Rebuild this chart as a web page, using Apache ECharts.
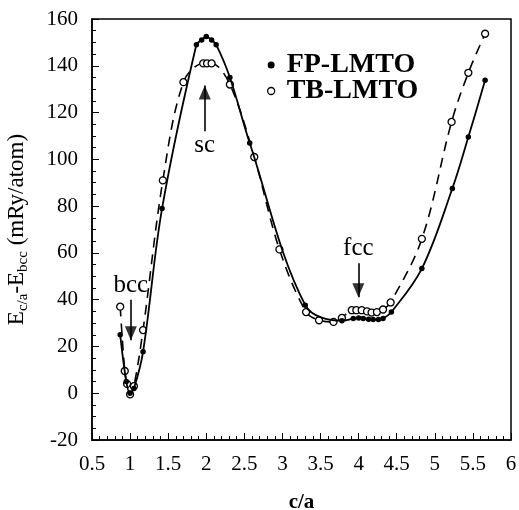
<!DOCTYPE html>
<html><head><meta charset="utf-8">
<script src="https://cdn.jsdelivr.net/npm/echarts@6/dist/echarts.min.js"></script>
<style>html,body{margin:0;padding:0;background:#fff}#c{width:519px;height:510px}</style>
</head><body><div id="c"></div>
<script>
// c/a values and energies (mRy/atom)
const fpX = [0.87, 0.95, 1.0, 1.05, 1.17, 1.42, 1.87, 1.94, 2.0, 2.07, 2.13, 2.31, 2.57, 3.30, 3.78, 3.93, 4.0, 4.06, 4.13, 4.19, 4.26, 4.32, 4.43, 4.83, 5.23, 5.44, 5.66];
const fpY = [25, 5, 0, 2, 17.7, 79, 149, 151, 152.5, 151, 149, 135, 107, 37.6, 31, 31.9, 32.2, 31.9, 31.6, 31.5, 31.5, 31.9, 34.7, 53.3, 87.5, 109.5, 133.8];
const tbX = [0.87, 0.93, 0.96, 1.0, 1.05, 1.17, 1.43, 1.70, 1.96, 2.01, 2.07, 2.31, 2.63, 2.96, 3.31, 3.48, 3.67, 3.78, 3.91, 3.97, 4.04, 4.11, 4.17, 4.24, 4.32, 4.42, 4.83, 5.22, 5.44, 5.66];
const tbY = [37, 9.5, 4, -0.5, 3, 27, 91, 133, 141, 141, 141, 132, 101, 61.5, 34.7, 31.2, 30.5, 32.2, 35.5, 35.5, 35.5, 35, 34.5, 34.7, 35.8, 38.8, 66, 116, 137, 153.7];
const seriesNames = ['FP-LMTO', 'TB-LMTO'];
const xTicks = {min: 0.5, max: 6, interval: 0.5};
const yTicks = {min: -20, max: 160, interval: 20};
// annotations: [label, x, yFrom (label end), yTo (arrow tip)]
const annotations = [['bcc', 1.01, 40, 22.6], ['sc', 1.98, 112, 131.6], ['fcc', 3.996, 55.6, 41]];

const F = 'Liberation Serif';
const zip = (a, b) => a.map((v, i) => [v, b[i]]);
const chart = echarts.init(document.getElementById('c'), null, {renderer: 'canvas'});
chart.setOption({
  animation: false,
  backgroundColor: '#fff',
  grid: {left: 92, right: 8, top: 19, bottom: 70, containLabel: false, outerBoundsMode: 'none',
    show: true, borderColor: '#000', borderWidth: 1.5},
  legend: {
    orient: 'vertical', left: 262, top: 46, itemGap: -2, itemWidth: 7, itemHeight: 7,
    textStyle: {fontFamily: F, fontSize: 28, fontWeight: 'bold', color: '#000', padding: [0, 0, 0, 7]},
    data: [
      {name: seriesNames[0], icon: 'circle', itemStyle: {color: '#000', borderWidth: 0}},
      {name: seriesNames[1], icon: 'circle', itemStyle: {color: '#fff', borderColor: '#000', borderWidth: 1.3}}
    ]
  },
  xAxis: {
    type: 'value', min: xTicks.min, max: xTicks.max, interval: xTicks.interval,
    name: 'c/a', nameLocation: 'middle', nameGap: 52,
    nameTextStyle: {fontFamily: F, fontSize: 21, fontWeight: 'bold', color: '#000'},
    axisLine: {onZero: false, lineStyle: {color: '#000', width: 1.5}},
    axisTick: {inside: true, length: 7, lineStyle: {color: '#000', width: 1}},
    minorTick: {show: true, splitNumber: 5, length: 4, lineStyle: {color: '#000', width: 1}},
    splitLine: {show: false},
    axisLabel: {fontFamily: F, fontSize: 21, color: '#000', margin: 14,
      formatter: v => String(v)}
  },
  yAxis: {
    type: 'value', min: yTicks.min, max: yTicks.max, interval: yTicks.interval,
    name: '{m|E}{s|c/a}{m|-E}{s|bcc}{m| (mRy/atom)}', nameLocation: 'middle', nameGap: 64,
    nameTextStyle: {
      fontFamily: F, fontSize: 23, fontWeight: 'normal', color: '#000',
      rich: {
        m: {fontFamily: F, fontSize: 23, fontWeight: 'normal', color: '#000', lineHeight: 28, verticalAlign: 'bottom'},
        s: {fontFamily: F, fontSize: 15, fontWeight: 'normal', color: '#000', lineHeight: 28, verticalAlign: 'bottom', padding: [0, 0, -3, 0]}
      }
    },
    axisLine: {onZero: false, lineStyle: {color: '#000', width: 1.5}},
    axisTick: {inside: true, length: 7, lineStyle: {color: '#000', width: 1}},
    minorTick: {show: true, splitNumber: 4, length: 4, lineStyle: {color: '#000', width: 1}},
    splitLine: {show: false},
    axisLabel: {fontFamily: F, fontSize: 21, color: '#000', margin: 14}
  },
  series: [
    {
      name: seriesNames[0], type: 'line', smooth: 0.35, data: zip(fpX, fpY),
      symbol: 'circle', symbolSize: 5.5, itemStyle: {color: '#000'},
      lineStyle: {color: '#000', width: 1.8}, z: 3,
      markLine: {
        silent: true, symbol: 'none',
        lineStyle: {color: '#000', width: 1.6, type: 'solid'},
        label: {show: true, position: 'start', fontFamily: F, fontSize: 25, color: '#000', distance: 2,
          formatter: p => p.name},
        data: annotations.map(a => [{name: a[0], coord: [a[1], a[2]]}, {coord: [a[1], a[3]]}])
      }
    },
    {
      name: seriesNames[1], type: 'line', smooth: 0.35, data: zip(tbX, tbY),
      symbol: 'circle', symbolSize: 7, itemStyle: {color: '#fff', borderColor: '#000', borderWidth: 1.3},
      lineStyle: {color: '#000', width: 1.6, type: [10, 7]}, z: 2
    },
    {
      name: 'arrowheads', type: 'scatter', silent: true, z: 4,
      symbol: 'triangle', symbolSize: [12, 14], itemStyle: {color: '#000'},
      data: annotations.map(a => {
        const down = a[3] < a[2];
        return {value: [a[1], a[3]], symbolRotate: down ? 180 : 0, symbolOffset: [0, down ? -7 : 7]};
      })
    }
  ]
});
</script></body></html>
